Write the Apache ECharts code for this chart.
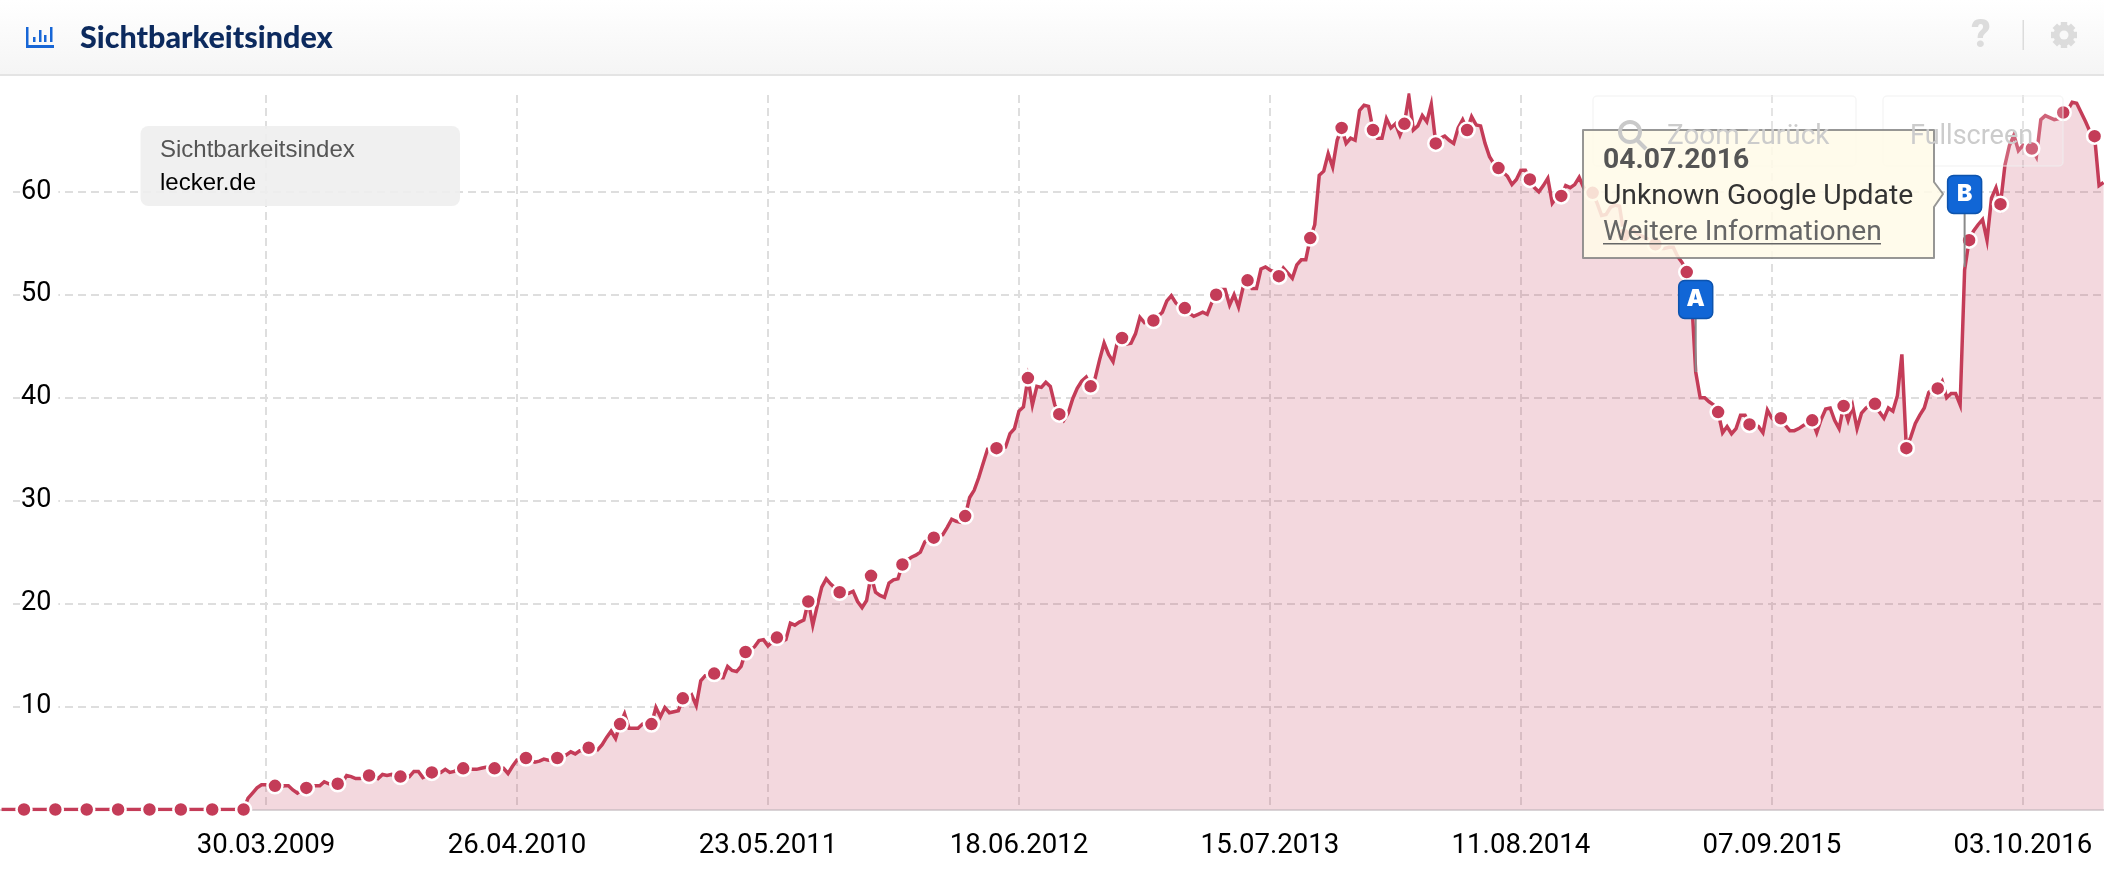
<!DOCTYPE html>
<html>
<head>
<meta charset="utf-8">
<title>Sichtbarkeitsindex</title>
<script src="https://cdn.jsdelivr.net/npm/echarts@6/dist/echarts.min.js"></script>
<style>
  html, body { margin: 0; padding: 0; background: #fff; }
  #chart { width: 2104px; height: 876px; }
</style>
</head>
<body>
<div id="chart"></div>
<script>
// week numbers count from the first labelled tick, 30.03.2009
const firstWeek = -59;
const tickWeeks = [0, 56, 112, 168, 224, 280, 336, 392];
const tickLabels = ["30.03.2009", "26.04.2010", "23.05.2011", "18.06.2012", "15.07.2013", "11.08.2014", "07.09.2015", "03.10.2016"];

const flagLabels = ["A", "B"];
const flagWeeks = [319, 379];
const flagStemEnds = [42.5, 52.7];
const flagBoxBottoms = [47.7, 57.9];

// one value per week, starting at firstWeek
const visibility = [
  0, 0, 0, 0, 0, 0, 0, 0, 0, 0,
  0, 0, 0, 0, 0, 0, 0, 0, 0, 0,
  0, 0, 0, 0, 0, 0, 0, 0, 0, 0,
  0, 0, 0, 0, 0, 0, 0, 0, 0, 0,
  0, 0, 0, 0, 0, 0, 0, 0, 0, 0,
  0, 0, 0, 0, 0,
  1.1, 1.6, 2.1, 2.4,
  2.4, 2.3, 2.3, 2.1, 2.3, 2.3, 1.9, 1.6, 1.9, 2.1,
  2.3, 2.3, 2.3, 2.7, 2.5, 2.5, 2.5, 2.6, 3.3, 3.2,
  3.0, 3.0, 3.1, 3.3, 3.2, 3.0, 3.4, 3.3, 3.4, 3.0,
  3.2, 3.4, 3.2, 3.7, 3.7, 3.1, 3.3, 3.6, 3.6, 3.6,
  3.9, 3.6, 3.7, 4.0, 4.0, 3.9, 3.9, 3.9, 4.0, 4.1,
  4.1, 4.0, 4.0, 4.0, 3.5, 4.2, 4.8, 4.9, 5.0, 4.8,
  4.6, 4.7, 4.9, 4.8, 4.9, 5.0, 5.1, 5.3, 5.6, 5.4,
  5.7, 5.7, 6.0, 5.9, 5.8, 6.3, 7.0, 7.6, 6.9, 8.3,
  9.3, 7.9, 7.9, 7.9, 8.3, 8.2, 8.3, 9.9, 9.0, 9.9,
  9.4, 9.5, 9.6, 10.8, 10.6, 11.1, 10.1, 12.5, 13, 13,
  13.2, 12.8, 12.8, 13.9, 13.5, 13.4, 13.9, 15.3, 15.5, 15.8,
  16.4, 16.5, 15.9, 16.3, 16.7, 16.3, 16.5, 18.1, 17.9, 18.2,
  18.4, 20.2, 17.9, 19.8, 21.6, 22.4, 21.9, 21.5, 21.1, 21.1,
  21, 21.2, 20.2, 19.6, 20.3, 22.7, 21.1, 20.8, 20.6, 22,
  22.3, 22.4, 23.8, 24.2, 24.5, 24.7, 25, 26, 26.3, 26.4,
  26.6, 26.7, 27.4, 28.2, 28, 27.9, 28.5, 30.3, 31, 32.2,
  33.6, 35, 35, 35.1, 35.1, 35.2, 36.5, 37, 38.7, 39.1,
  41.9, 39.3, 41.1, 41, 41.5, 41.1, 39.3, 38.4, 37.8, 38.5,
  39.9, 40.9, 41.6, 42, 41.1, 41.9, 43.7, 45.3, 44.2, 43.5,
  45.5, 45.8, 45.2, 45.3, 46.2, 47.8, 47.3, 47.5, 47.5, 47.9,
  48.3, 49.4, 49.9, 49.2, 48.8, 48.7, 48.2, 47.9, 48.1, 48.3,
  48.1, 49.2, 50, 50.5, 50.5, 49, 50, 48.8, 50.7, 51.4,
  50.6, 50.6, 52.5, 52.7, 52.4, 52.2, 51.8, 52.6, 52.1, 51.6,
  52.9, 53.4, 53.4, 55.5, 56.8, 61.6, 62, 63.7, 62.4, 65,
  66.2, 64.7, 65.2, 65, 67.9, 68.4, 68.3, 66, 65.2, 65.2,
  67.1, 66.2, 66.6, 65.5, 66.6, 69.3, 66, 66.4, 67.4, 66.8,
  68.5, 64.7, 65.2, 65.4, 65, 64.7, 66.2, 67, 66, 67.3,
  66.5, 66.4, 64.7, 63.4, 62.7, 62.3, 61.9, 61.5, 60.7, 61.2,
  62.1, 62.1, 61.2, 60.4, 60, 60.6, 61.3, 58.9, 59.5, 59.6,
  60.6, 60.4, 60.7, 61.4, 60.4, 60, 59.9, 58.9, 57.7, 57.8,
  58.5, 58.7, 58.6, 55.8, 56, 56.3, 55.9, 55.7, 55.5, 55.1,
  54.9, 54.5, 54.5, 54.6, 54.6, 53.7, 53.1, 52.2, 50.4, 42.5,
  40, 40, 39.6, 39.3, 38.6, 36.6, 37.2, 36.5, 37, 38.3,
  38.3, 37.4, 37.4, 37.2, 36.6, 38.8, 38, 37.6, 38, 37.3,
  36.8, 36.8, 37, 37.3, 37.5, 37.8, 36.6, 37.9, 38.9, 39,
  37.8, 37, 39.2, 37.8, 39.2, 37, 38.5, 39, 39.3, 39.4,
  38.6, 38, 39, 38.7, 40.2, 44.2, 35.1, 36.2, 37.5, 38.3,
  39, 40.5, 40.9, 40.9, 41.6, 40, 40.4, 40.4, 39.3, 52.4,
  55.3, 56.2, 56.8, 57.3, 55.3, 59.4, 60.4, 58.8, 62.6, 64.5,
  65.5, 64, 64.5, 64, 64.2, 63.4, 67, 67.4, 67.2, 67,
  67.1, 67.7, 67.9, 68.7, 68.6, 67.7, 66.8, 65.8, 65.4, 60.6,
  60.9
];

const linePoints = visibility.map((v, i) => [firstWeek + i, v]);
// a marker sits on every seventh week
const dotPoints = linePoints.filter((p) => (p[0] + 54) % 7 === 0);
const flagData = flagWeeks.map((w, i) => [w, flagStemEnds[i], flagBoxBottoms[i], flagLabels[i]]);

const RED = "#c43c58";
const FONT = "Roboto";

function renderFlag(params, api) {
  const week = api.value(0);
  const end = api.coord([week, api.value(1)]);
  const box = api.coord([week, api.value(2)]);
  return {
    type: "group",
    children: [
      { type: "line", shape: { x1: end[0], y1: end[1], x2: box[0], y2: box[1] }, style: { stroke: "#8a8a8a", lineWidth: 2 } },
      {
        type: "rect",
        shape: { x: box[0] - 17, y: box[1] - 38, width: 34, height: 38, r: 6 },
        style: { fill: "#1166d6", stroke: "#0d53ad", lineWidth: 1.5 },
      },
      {
        type: "text",
        style: {
          x: box[0], y: box[1] - 19, text: api.value(3), align: "center", verticalAlign: "middle",
          fill: "#fff", font: "900 23px Inter",
        },
      },
    ],
  };
}

function text(x, y, str, fill, font, z) {
  return { type: "text", z: z, style: { x: x, y: y, text: str, fill: fill, font: font, verticalAlign: "middle" } };
}

const header = [
  {
    type: "rect", z: 30, shape: { x: 0, y: 0, width: 2104, height: 74 },
    style: {
      fill: { type: "linear", x: 0, y: 0, x2: 0, y2: 1, colorStops: [{ offset: 0, color: "#ffffff" }, { offset: 1, color: "#f5f5f5" }] },
    },
  },
  { type: "rect", z: 30, shape: { x: 0, y: 74, width: 2104, height: 2 }, style: { fill: "#e4e4e4" } },
  text(80, 38, "Sichtbarkeitsindex", "#0c2a5e", "900 30.5px Lato", 31),
  // chart icon
  { type: "rect", z: 31, shape: { x: 26, y: 27, width: 2.5, height: 21 }, style: { fill: "#1766d6" } },
  { type: "rect", z: 31, shape: { x: 26, y: 45, width: 28, height: 3 }, style: { fill: "#1766d6" } },
  { type: "rect", z: 31, shape: { x: 33, y: 37, width: 2.5, height: 5 }, style: { fill: "#1766d6" } },
  { type: "rect", z: 31, shape: { x: 39, y: 30, width: 2.5, height: 12 }, style: { fill: "#1766d6" } },
  { type: "rect", z: 31, shape: { x: 44, y: 35, width: 2.5, height: 7 }, style: { fill: "#1766d6" } },
  { type: "rect", z: 31, shape: { x: 50, y: 27, width: 2.5, height: 15 }, style: { fill: "#1766d6" } },
  // help and settings
  { type: "text", z: 31, style: { x: 1981, y: 37, text: "?", fill: "#dcdcdc", font: "900 38px Roboto", align: "center", verticalAlign: "middle" } },
  { type: "rect", z: 31, shape: { x: 2022.5, y: 20, width: 1.5, height: 30 }, style: { fill: "#dcdcdc" } },
  { type: "circle", z: 31, shape: { cx: 2064, cy: 35, r: 10.5 }, style: { fill: "#dcdcdc" } },
  { type: "circle", z: 32, shape: { cx: 2064, cy: 35, r: 4.5 }, style: { fill: "#f9f9f9" } },
].concat([0, 45, 90, 135].map((deg) => ({
  type: "rect", z: 31, x: 2064, y: 35, rotation: (deg * Math.PI) / 180,
  shape: { x: -3.2, y: -13, width: 6.4, height: 26 }, style: { fill: "#dcdcdc" },
})));

const legendBox = [
  { type: "rect", z: 20, shape: { x: 0, y: 95, width: 10, height: 625 }, style: { fill: "#fff" } },
  { type: "rect", z: 20, shape: { x: 140.5, y: 126, width: 319.5, height: 80, r: 8 }, style: { fill: "rgba(238,238,238,0.9)" } },
  text(160, 150, "Sichtbarkeitsindex", "#555", "24px 'Liberation Sans'", 21),
  text(160, 183, "lecker.de", "#000", "24px 'Liberation Sans'", 21),
];

const buttons = [
  { type: "rect", z: 40, shape: { x: 1593, y: 96, width: 263, height: 70, r: 4 }, style: { fill: "rgba(255,255,255,0.2)", stroke: "rgba(240,240,240,0.6)", lineWidth: 1.5 } },
  { type: "rect", z: 40, shape: { x: 1883, y: 96, width: 180, height: 70, r: 4 }, style: { fill: "rgba(255,255,255,0.2)", stroke: "rgba(240,240,240,0.6)", lineWidth: 1.5 } },
  // labels of the buttons show through the info box
  { type: "circle", z: 52, shape: { cx: 1630, cy: 132, r: 10 }, style: { fill: "none", stroke: "#c9c9c9", lineWidth: 4 } },
  { type: "line", z: 52, shape: { x1: 1637, y1: 140, x2: 1646, y2: 149 }, style: { stroke: "#c9c9c9", lineWidth: 4 } },
  text(1667, 137, "Zoom zurück", "#cccccc", "27.9px Roboto", 52),
  text(1910, 137, "Fullscreen", "#cccccc", "27px Roboto", 52),
];

const infoBox = [
  {
    type: "polygon", z: 50,
    shape: { points: [[1583, 130], [1934, 130], [1934, 182], [1943, 194], [1934, 207], [1934, 258], [1583, 258]] },
    style: { fill: "rgba(255,250,232,0.86)", stroke: "rgba(125,125,125,0.8)", lineWidth: 2, lineJoin: "round" },
  },
  text(1603, 160.5, "04.07.2016", "#555", "bold 28.3px Roboto", 51),
  text(1603, 196.5, "Unknown Google Update", "#333", "28.3px Roboto", 51),
  text(1603, 232.5, "Weitere Informationen", "#666", "28.2px Roboto", 51),
  { type: "rect", z: 51, shape: { x: 1603, y: 243, width: 278, height: 1.5 }, style: { fill: "#666" } },
];

const chart = echarts.init(document.getElementById("chart"));
chart.setOption({
  animation: false,
  backgroundColor: "#fff",
  grid: { left: 0, right: 0, top: 95, bottom: 66.5 },
  xAxis: {
    type: "value",
    min: -59.35,
    max: 410.1,
    axisLine: { show: true, lineStyle: { color: "#d9d3d6", width: 2 } },
    axisTick: { show: false, customValues: tickWeeks },
    axisLabel: {
      customValues: tickWeeks,
      formatter: (v) => tickLabels[tickWeeks.indexOf(v)],
      color: "#000",
      fontFamily: FONT,
      fontSize: 27.6,
      margin: 23,
    },
    splitLine: { show: true, lineStyle: { color: "#dedede", width: 2, type: [8, 5] } },
  },
  yAxis: {
    type: "value",
    min: 0,
    max: 69.4,
    interval: 10,
    axisLine: { show: false },
    axisTick: { show: false },
    axisLabel: {
      inside: true,
      margin: 20,
      showMinLabel: false,
      showMaxLabel: false,
      color: "#000",
      fontFamily: FONT,
      fontSize: 27,
      backgroundColor: "#fff",
      padding: [0, 7, 0, 1],
    },
    splitLine: { show: true, showMinLine: false, showMaxLine: false, lineStyle: { color: "#dedede", width: 2, type: [8, 5] } },
  },
  series: [
    {
      type: "line",
      data: linePoints,
      showSymbol: false,
      lineStyle: { color: RED, width: 3.5, join: "miter" },
      areaStyle: { color: "rgba(196,60,88,0.2)", opacity: 1 },
      z: 3,
    },
    {
      type: "scatter",
      data: dotPoints,
      symbolSize: 15,
      itemStyle: { color: RED, borderColor: "#fff", borderWidth: 2.5, opacity: 1 },
      z: 4,
    },
    {
      type: "custom",
      data: flagData,
      renderItem: renderFlag,
      encode: { x: 0, y: 1 },
      z: 5,
    },
  ],
  graphic: { elements: header.concat(legendBox, buttons, infoBox) },
});
</script>
</body>
</html>
